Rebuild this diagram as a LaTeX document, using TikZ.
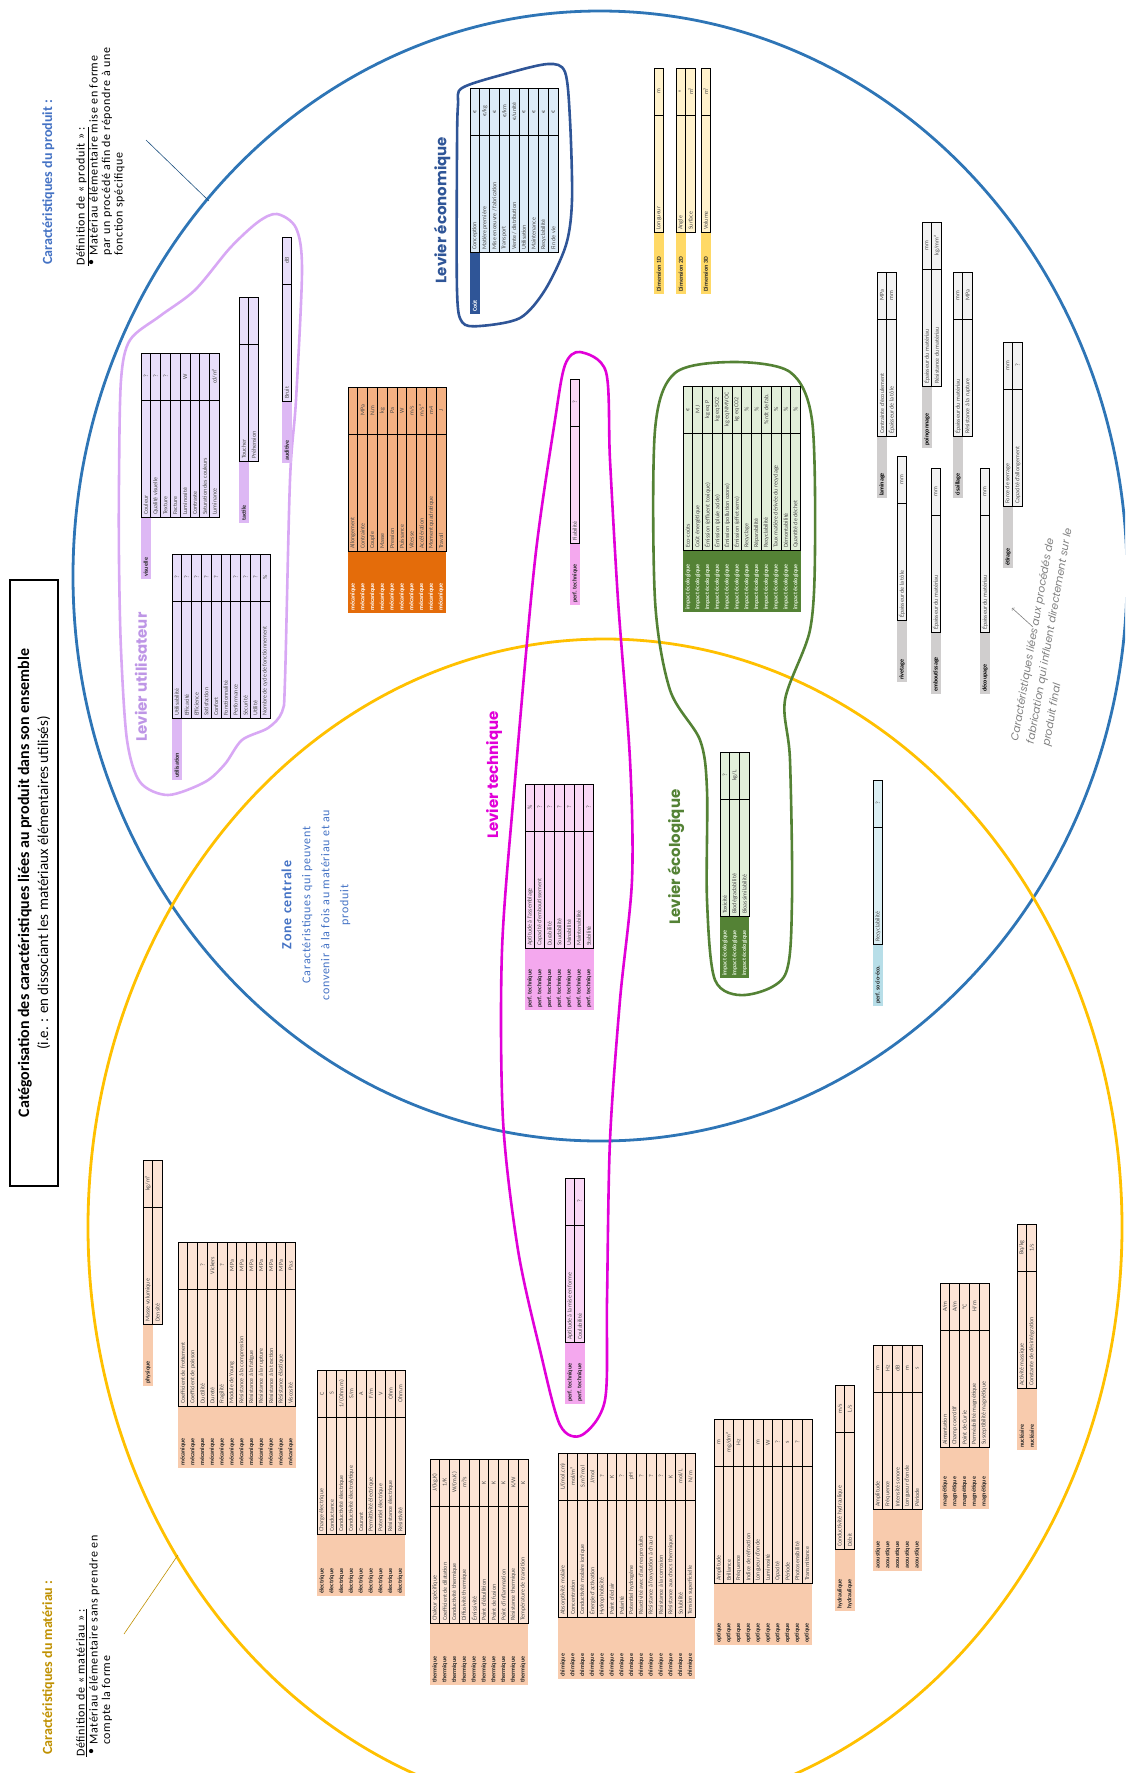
\documentclass[tikz,border=0pt]{standalone}
\usepackage{fontspec}
\setmainfont{Carlito}
\newfontfamily\spacedfont{Carlito}[LetterSpace=6]
\newfontfamily\leverfont{Poppins}
\usetikzlibrary{calc}

\definecolor{prodblue}{HTML}{2E75B6}
\definecolor{matyellow}{HTML}{FFC000}
\definecolor{matgold}{HTML}{BF9000}
\definecolor{zoneblue}{HTML}{4472C4}
\definecolor{utilline}{HTML}{D8A8F4}
\definecolor{utiltext}{HTML}{BE96E6}
\definecolor{utilbody}{HTML}{E8DEFA}
\definecolor{utilstrip}{HTML}{DDB8F4}
\definecolor{ecoblue}{HTML}{2F5597}
\definecolor{ecobody}{HTML}{DDEBF7}
\definecolor{dimbody}{HTML}{FFF2CC}
\definecolor{dimstrip}{HTML}{FFD966}
\definecolor{mecabody}{HTML}{F4B183}
\definecolor{mecastrip}{HTML}{E46C0A}
\definecolor{ecolgreen}{HTML}{548235}
\definecolor{ecolbody}{HTML}{E2EFDA}
\definecolor{techpink}{HTML}{E100D8}
\definecolor{techbody}{HTML}{FAD7F6}
\definecolor{techstrip}{HTML}{F4A8EE}
\definecolor{socbody}{HTML}{DAEEF3}
\definecolor{socstrip}{HTML}{B7DEE8}
\definecolor{procbody}{HTML}{F2F2F2}
\definecolor{procstrip}{HTML}{D0CECE}
\definecolor{procgray}{HTML}{7F7F7F}
\definecolor{matbody}{HTML}{FCE4D6}
\definecolor{matstrip}{HTML}{F8CBAD}

\tikzset{
  cellbox/.style={draw=black, line width=0.7pt},
  namelabel/.style={rotate=90, anchor=west, inner sep=1pt, font=\fontsize{6}{6}\selectfont, text=black!70},
  unitlabel/.style={rotate=90, inner sep=0.5pt, font=\fontsize{6}{6}\selectfont, text=black!70},
  striplabel/.style={rotate=90, anchor=west, inner sep=1pt, font=\bfseries\fontsize{6}{6}\selectfont},
  lever/.style={rotate=90, font=\leverfont\bfseries\fontsize{15}{15}\selectfont},
  blob/.style={line width=2.6pt},
  deftext/.style={rotate=90, anchor=north west, inner sep=0pt, align=left, font=\spacedfont\fontsize{12}{12.5}\selectfont},
  util body/.style={fill=utilbody}, util strip/.style={fill=utilstrip}, util label/.style={text=black!85},
  eco body/.style={fill=ecobody}, eco strip/.style={fill=ecoblue}, eco label/.style={text=white},
  dim body/.style={fill=dimbody}, dim strip/.style={fill=dimstrip}, dim label/.style={text=black!85},
  meca body/.style={fill=mecabody}, meca strip/.style={fill=mecastrip}, meca label/.style={text=white},
  ecol body/.style={fill=ecolbody}, ecol strip/.style={fill=ecolgreen}, ecol label/.style={text=ecolbody},
  tech body/.style={fill=techbody}, tech strip/.style={fill=techstrip}, tech label/.style={text=black!85},
  soc body/.style={fill=socbody}, soc strip/.style={fill=socstrip}, soc label/.style={text=black!85},
  proc body/.style={fill=procbody}, proc strip/.style={fill=procstrip}, proc label/.style={text=black},
  mat body/.style={fill=matbody}, mat strip/.style={fill=matstrip}, mat label/.style={text=black!85},
}

\newcommand{\rowwd}{9.8}
% x, y, famille, nom, etiquette, nb de bandes, lignes nom/unite
\newcommand{\proptable}[7]{%
  \foreach \nom/\un [count=\i from 0] in {#7}{
    \pgfmathsetmacro{\xa}{#1+\i*\rowwd}
    \pgfmathsetmacro{\xb}{\xa+\rowwd}
    \pgfmathsetmacro{\xm}{\xa+\rowwd/2}
    \ifnum\i<#6
      \fill[#3 strip] (\xa,#2+164) rectangle (\xb,#2+226);
      \node[striplabel,#3 label] (#4-s\i) at (\xm,#2+225) {#5};
    \fi
    \draw[cellbox,#3 body] (\xa,#2) rectangle (\xb,#2+47);
    \draw[cellbox,#3 body] (\xa,#2+47) rectangle (\xb,#2+164);
    \node[unitlabel] (#4-u\i) at (\xm,#2+23.5) {\un};
    \node[namelabel] (#4-n\i) at (\xm,#2+163) {\nom};
  }%
}

\begin{document}
\begin{tikzpicture}[x=1pt, y=-1pt]
  \useasboundingbox (0,0) rectangle (1125,1773);
  \clip (0,0) rectangle (1125,1773);

  % les deux ensembles
  \draw[prodblue, line width=2.8pt] (600,576) ellipse [x radius=527pt, y radius=565pt];
  \draw[matyellow, line width=2.8pt] (605,1227) ellipse [x radius=517pt, y radius=588pt];

  % leviers
  \draw[blob, utilline] plot[smooth cycle] coordinates {(160,316) (130,340) (121,380) (119,480)
    (119,560) (121,650) (127,740) (140,782) (168,795) (205,782) (225,764) (242,740) (268,728)
    (282,712) (285,680) (290,480) (296,400) (302,270) (296,228) (277,214) (258,222) (230,248) (195,290)};
  \draw[blob, ecoblue] plot[smooth cycle] coordinates {(462,88) (505,74) (548,64) (565,72) (570,120)
    (572,200) (566,245) (545,290) (520,318) (480,326) (462,322) (457,290) (457,150) (458,105)};
  \draw[blob, ecolgreen] plot[smooth cycle] coordinates {(733,362) (790,372) (812,420) (815,550)
    (810,630) (785,700) (790,760) (792,900) (785,975) (745,995) (715,980) (707,900) (707,790)
    (700,740) (670,690) (655,600) (655,430) (675,373)};
  \draw[blob, techpink] plot[smooth cycle] coordinates {(580,352) (606,372) (610,460) (618,600)
    (630,760) (632,880) (620,1000) (610,1140) (607,1300) (605,1400) (582,1435) (560,1425)
    (540,1350) (518,1250) (503,1120) (502,950) (515,780) (535,560) (555,420) (565,365)};

  % levier utilisateur
  \proptable{141}{353}{util}{vis}{visuelle}{1}{Couleur/?,Qualité visuelle/?,Texture/?,Facture/,
    Luminosité/W,Contraste/,Saturation des couleurs/,Luminance/{cd/m²}}
  \proptable{239}{297}{util}{tac}{tactile}{1}{Toucher/,Préhension/}
  \proptable{282}{237}{util}{aud}{auditive}{1}{Bruit/dB}
  \proptable{172}{554}{util}{uti}{utilisation}{1}{Utilisabilité/?,Efficacité/?,Efficience/?,
    Satisfaction/?,Confort/?,Fonctionnalité/,Performance/?,Sécurité/?,Utilité/?,
    Nombre de cycle de fonctionnement/\%}

  % levier economique
  \proptable{470}{88}{eco}{cout}{Coût}{1}{Conception/€,Matière première/{€/kg},
    {Mise en œuvre / fabrication}/€,Transport/{€/km},{Vente / distribution}/{€/unité},
    Utilisation/€,Maintenance/€,Recyclabilité/€,Fin de vie/€}

  % dimensions
  \proptable{654}{68}{dim}{d1}{Dimension 1D}{1}{Longueur/m}
  \proptable{676}{68}{dim}{d2}{Dimension 2D}{1}{Angle/°,Surface/{m²}}
  \proptable{701}{68}{dim}{d3}{Dimension 3D}{1}{Volume/{m³}}

  % grandeurs mecaniques du produit
  \proptable{348}{387}{meca}{cin}{mécanique}{99}{Allongement/,Contrainte/MPa,Couple/{N.m},Masse/kg,
    Pression/Pa,Puissance/W,Vitesse/{m/s},Accélération/{m/s²},Moment quadratique/m4,Travail/J}

  % levier ecologique
  \proptable{683}{386}{ecol}{eco1}{impact écologique}{99}{Eco-coûts/€,Coût énergétique/MJ,
    Émission (effluent toxique)/{kg eq P},Émission (pluie acide)/{kg eq SO2},
    Émission (pollution ozone)/{kg eq NMVOC},Émission (effet serre)/{kg eq CO2},Recyclage/\%,
    Réparabilité/\%,Recyclabilité/{\% rdt de fab.},Taux matière dérivée du recyclage/\%,
    Démontabilité/\%,Quantité de déchet/\%}
  \proptable{720}{752}{ecol}{eco2}{impact écologique}{99}{Toxicité/?,Biodégradabilité/{kg/L},
    Bioassimilabilité/}

  % levier technique
  \proptable{570}{379}{tech}{tec1}{perf. technique}{99}{Fiabilité/?}
  \proptable{525}{784}{tech}{tec2}{perf. technique}{99}{Aptitude à l'assemblage/\%,
    Capacité d'emboutissement/?,Durabilité/?,Soudabilité/?,Usinabilité/?,Maintenabilité/,Stabilité/?}
  \proptable{565}{1178}{tech}{tec3}{perf. technique}{99}{Aptitude à la mise en forme/,Coulabilité/?}

  % performance socio-economique
  \proptable{873}{780}{soc}{soc}{perf. socio-éco.}{1}{Recyclabilité/?}

  % procedes de fabrication
  \proptable{877}{272}{proc}{lam}{laminage}{1}{Contrainte d'écoulement/MPa,Épaisseur de la tôle/mm}
  \proptable{922}{222}{proc}{poi}{poinçonnage}{1}{Épaisseur du matériau/mm,
    Résistance du matériau/{kg/mm²}}
  \proptable{953}{272}{proc}{cis}{cisaillage}{1}{Épaisseur du matériau/mm,Résistance à la rupture/MPa}
  \proptable{1003}{342}{proc}{eti}{étirage}{1}{Force de serrage/mm,Capacité d'allongement/?}
  \proptable{897}{456}{proc}{riv}{rivetage}{1}{Épaisseur de la tôle/mm}
  \proptable{931}{468}{proc}{emb}{emboutissage}{1}{Épaisseur du matériau/mm}
  \proptable{980}{468}{proc}{dec}{découpage}{1}{Épaisseur du matériau/mm}

  % caracteristiques du materiau
  \proptable{143}{1160}{mat}{phy}{physique}{1}{Masse volumique/{kg/m³},Densité/}
  \proptable{178}{1242}{mat}{mec}{mécanique}{99}{Coefficient de frottement/,Coefficient de poisson/,
    Ductilité/?,Dureté/Vickers,Fragilité/?,Module de Young/MPa,Résistance à la compression/MPa,
    Résistance à la fatigue/MPa,Résistance à la rupture/MPa,Résistance à la traction/MPa,
    Résistance élastique/MPa,Viscosité/{Pa.s}}
  \proptable{317}{1370}{mat}{ele}{électrique}{99}{Charge électrique/C,Conductance/S,
    Conductivité électrique/{1/(Ohm.m)},Conductivité électrolytique/{S/m},Courant/A,
    Permittivité électrique/{F/m},Potentiel électrique/V,Résistance électrique/Ohm,Résistivité/{Ohm.m}}
  \proptable{430}{1459}{mat}{the}{thermique}{99}{Chaleur spécifique/{J/(kg.K)},
    Coefficient de dilatation/{1/K},Conductivité thermique/{W/(m.K)},Diffusivité thermique/{m²/s},
    Émissivité/,Point d'ébullition/K,Point de fusion/K,Point d'inflammation/K,
    Résistance thermique/{K/W},Température de transition/K}
  \proptable{558}{1453}{mat}{chi}{chimique}{99}{Absorptivité molaire/{L/(mol.cm)},
    Concentration/{mol/m³},Conductivité molaire ionique/{S.m²/mol},Énergie d'activation/{J/mol},
    Hydrophobicité/?,Point d'éclair/K,Polarité/?,Potentiel hydrogène/pH,
    Réactivité avec d'autres produits/?,Résistance à l'oxydation à chaud/?,
    Résistance à la corrosion/?,Résistance aux chocs thermiques/K,Solubilité/{mol/L},
    Tension superficielle/{N/m}}
  \proptable{714}{1419}{mat}{opt}{optique}{99}{Amplitude/m,Brillance/{mg/dm²},Fréquence/Hz,
    Indice de réfraction/,Longueur d'onde/m,Luminosité/W,Opacité/?,Période/s,Photosensibilité/?,
    Transmittance/}
  \proptable{835}{1385}{mat}{hyd}{hydraulique}{99}{Conductivité hydraulique/{m/s},Débit/{L/s}}
  \proptable{873}{1345}{mat}{aco}{acoustique}{99}{Amplitude/m,Fréquence/Hz,Intensité sonore/dB,
    Longueur d'onde/m,Période/s}
  \proptable{940}{1283}{mat}{mag}{magnétique}{99}{Aimantation/{A/m},Champ coercitif/{A/m},
    Point de Curie/°C,Perméabilité magnétique/{H/m},Susceptibilité magnétique/}
  \proptable{1017}{1224}{mat}{nuc}{nucléaire}{99}{Activité massique/{Bq/kg},
    Constante de désintégration/{1/s}}

  % noms des leviers
  \node[lever, text=utiltext] (levutil) at (141,677) {Levier utilisateur};
  \node[lever, text=ecoblue] (leveco) at (442,210) {Levier économique};
  \node[lever, text=techpink] (levtech) at (494,775) {Levier technique};
  \node[lever, text=ecolgreen] (levecol) at (676,857) {Levier écologique};

  % titre
  \node[draw, line width=2.5pt, rotate=90, minimum width=606pt, minimum height=48pt,
    align=center, inner sep=2pt, font=\fontsize{16}{19}\selectfont] (titre) at (34,883)
    {\textbf{Catégorisation des caractéristiques liées au produit dans son ensemble}\\
     {\fontsize{15}{19}\selectfont (i.e. : en dissociant les matériaux élémentaires utilisés)}};

  % zone centrale
  \node[rotate=90, align=center, text=zoneblue, font=\spacedfont\fontsize{12}{19}\selectfont]
    (zone) at (316,905) {{\bfseries\fontsize{14}{19}\selectfont Zone centrale}\\
    Caractéristiques qui peuvent\\convenir à la fois au matériau et au\\produit};

  % definition du produit
  \node[rotate=90, anchor=north west, inner sep=0pt, text=zoneblue,
    font=\bfseries\fontsize{14}{16}\selectfont] (prodtitre) at (42,265) {Caractéristiques du produit :};
  \node[deftext] (proddef) at (76,266) {\underline{Définition de « produit » :}};
  \node[deftext] (prodpuce) at (89,266) {•};
  \node[deftext] (prodtexte) at (89,256) {Matériau élémentaire mise en forme\\
    par un procédé afin de répondre à une\\fonction spécifique};
  \coordinate (prodpin) at (209,201);
  \coordinate (prodfin) at (146,140);
  \draw[prodblue!70!black, line width=0.6pt] (prodpin) -- (prodfin);

  % definition du materiau
  \node[rotate=90, anchor=north west, inner sep=0pt, text=matgold,
    font=\bfseries\fontsize{14}{16}\selectfont] (mattitre) at (42,1755) {Caractéristiques du matériau :};
  \node[deftext] (matdef) at (76,1757) {\underline{Définition de « matériau » :}};
  \node[deftext] (matpuce) at (89,1755) {•};
  \node[deftext] (mattexte) at (89,1745) {Matériau élémentaire sans prendre en\\compte la forme};
  \coordinate (matpin) at (178,1555);
  \coordinate (matfin) at (124,1634);
  \draw[matgold, line width=0.6pt] (matpin) -- (matfin);

  % procedes
  \node[rotate=80, align=left, text=procgray, font=\leverfont\itshape\fontsize{10.5}{16}\selectfont]
    (proctexte) at (1050,636) {Caractéristiques liées aux procédés de\\
    fabrication qui influent directement sur le\\produit final};
  \coordinate (procpied) at (1033,627);
  \coordinate (procpointe) at (1012,608);
  \draw[->, procgray, line width=0.6pt] (procpied) -- (procpointe);
\end{tikzpicture}
\end{document}
